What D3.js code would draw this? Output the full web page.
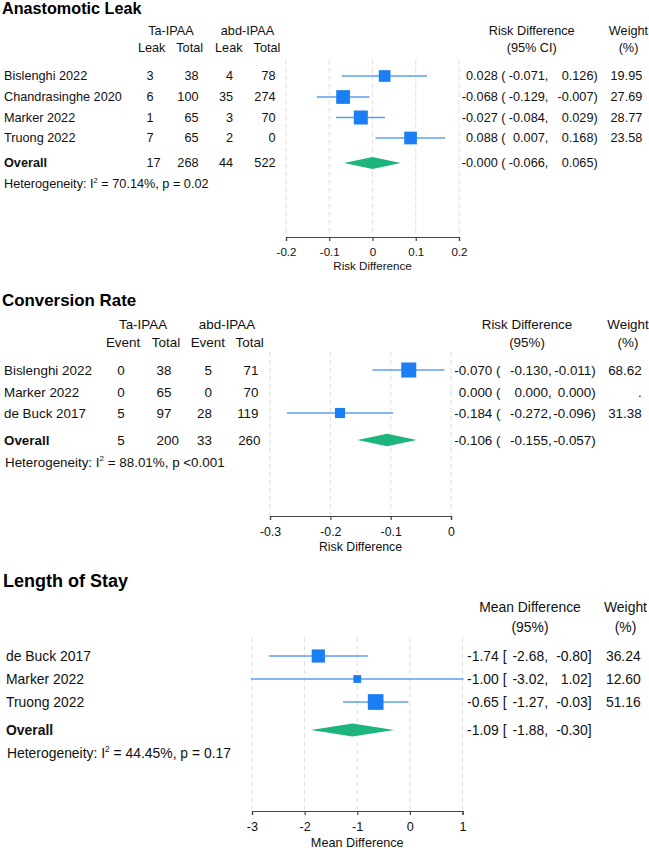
<!DOCTYPE html>
<html>
<head>
<meta charset="utf-8">
<script src="https://cdn.jsdelivr.net/npm/d3@7/dist/d3.min.js"></script>
<style>
  html, body { margin: 0; padding: 0; background: #fff; }
  svg { display: block; }
</style>
</head>
<body>
<script>
// ---------------- DATA ----------------
// Panel 1: Anastomotic Leak
const leakStudies   = ["Bislenghi 2022", "Chandrasinghe 2020", "Marker 2022", "Truong 2022"];
const leakTaEvents  = [3, 6, 1, 7];
const leakTaTotal   = [38, 100, 65, 65];
const leakAbdEvents = [4, 35, 3, 2];
const leakAbdTotal  = [78, 274, 70, 0];
const leakEst       = [0.028, -0.068, -0.027, 0.088];
const leakLower     = [-0.071, -0.129, -0.084, 0.007];
const leakUpper     = [0.126, -0.007, 0.029, 0.168];
const leakWeight    = [19.95, 27.69, 28.77, 23.58];
const leakOverallCounts = [17, 268, 44, 522];
const leakOverall   = [-0.000, -0.066, 0.065]; // est, lower, upper
const leakHet       = ["70.14", "= 0.02"];
const leakTicks     = [-0.2, -0.1, 0, 0.1, 0.2];

// Panel 2: Conversion Rate
const convStudies   = ["Bislenghi 2022", "Marker 2022", "de Buck 2017"];
const convTaEvents  = [0, 0, 5];
const convTaTotal   = [38, 65, 97];
const convAbdEvents = [5, 0, 28];
const convAbdTotal  = [71, 70, 119];
const convEst       = [-0.070, 0.000, -0.184];
const convLower     = [-0.130, 0.000, -0.272];
const convUpper     = [-0.011, 0.000, -0.096];
const convWeight    = [68.62, null, 31.38];
const convOverallCounts = [5, 200, 33, 260];
const convOverall   = [-0.106, -0.155, -0.057];
const convHet       = ["88.01", "<0.001"];
const convTicks     = [-0.3, -0.2, -0.1, 0];

// Panel 3: Length of Stay
const losStudies    = ["de Buck 2017", "Marker 2022", "Truong 2022"];
const losEst        = [-1.74, -1.00, -0.65];
const losLower      = [-2.68, -3.02, -1.27];
const losUpper      = [-0.80, 1.02, -0.03];
const losWeight     = [36.24, 12.60, 51.16];
const losOverall    = [-1.09, -1.88, -0.30];
const losHet        = ["44.45", "= 0.17"];
const losTicks      = [-3, -2, -1, 0, 1];

// ---------------- STYLE ----------------
const FONT = "'Liberation Sans', Arial, Helvetica, sans-serif";
const SQUARE = "#1c7ef4";
const CI = "#5e9fec";
const DIAMOND = "#1db57c";
const GRID = "#e0e0e0";
const AXIS = "#444";

const svg = d3.select("body").append("svg")
  .attr("width", 649).attr("height", 850)
  .attr("font-family", FONT);

function fmtNum(v, d) {
  const neg = v < 0 || Object.is(v, -0);
  return (neg ? "-" : "") + Math.abs(v).toFixed(d);
}

function drawPanel(p) {
  const g = svg.append("g");
  const fs = p.fs;
  const x = d3.scaleLinear().domain(p.domain).range(p.range);

  const txt = (sel, s, xx, yy, anchor, opts = {}) => {
    const t = sel.append("text")
      .attr("x", xx).attr("y", yy).attr("dy", "0.35em")
      .attr("text-anchor", anchor || "start")
      .attr("font-size", opts.fs || fs)
      .attr("fill", "#111")
      .text(s);
    if (opts.bold) t.attr("font-weight", "bold");
    return t;
  };

  // Title
  g.append("text")
    .attr("x", p.titleX).attr("y", p.titleBase)
    .attr("font-size", p.titleFs).attr("font-weight", "bold")
    .attr("fill", "#000").text(p.title);

  // Gridlines
  g.selectAll("line.grid").data(p.ticks).join("line")
    .attr("class", "grid")
    .attr("x1", d => x(d)).attr("x2", d => x(d))
    .attr("y1", p.gridTop).attr("y2", p.axisY)
    .attr("stroke", GRID).attr("stroke-width", 1)
    .attr("stroke-dasharray", "5,3");

  // Axis
  const ax = g.append("g")
    .attr("transform", `translate(0,${p.axisY})`)
    .call(d3.axisBottom(x).tickValues(p.ticks).tickSize(4).tickPadding(p.tickPad)
      .tickFormat(d => String(d)));
  ax.select(".domain").attr("stroke", AXIS).attr("stroke-width", 1.2);
  ax.selectAll(".tick line").attr("stroke", AXIS).attr("stroke-width", 1.2);
  ax.selectAll(".tick text")
    .attr("font-size", p.axFs).attr("font-family", FONT).attr("fill", "#111");
  txt(g, p.axisTitle, (p.range[0] + p.range[1]) / 2, p.axisTitleY, "middle", { fs: p.axFs });

  // Headers
  p.groupHeaders.forEach(h => txt(g, h.text, h.x, p.headerY[0], "middle"));
  p.colHeaders.forEach(h => txt(g, h.text, h.x, p.headerY[1], "middle"));
  txt(g, p.effectHeader[0], p.effectHeaderX, p.headerY[0], "middle");
  txt(g, p.effectHeader[1], p.effectHeaderX, p.headerY[1], "middle");
  txt(g, "Weight", p.weightHeaderX, p.headerY[0], "middle");
  txt(g, "(%)", p.weightHeaderX, p.headerY[1], "middle");

  // Study rows
  const maxW = d3.max(p.weight.filter(w => w != null));
  p.studies.forEach((s, i) => {
    const y = p.rowY[i];
    txt(g, s, p.labelX, y, "start");
    p.cols.forEach((c, j) => txt(g, String(p.colData[j][i]), c.x, y, c.anchor));

    // CI line
    if (p.upper[i] > p.lower[i]) {
      g.append("line")
        .attr("x1", x(p.lower[i])).attr("x2", x(p.upper[i]))
        .attr("y1", y).attr("y2", y)
        .attr("stroke", CI).attr("stroke-width", 1.6);
    }
    // Square
    if (p.weight[i] != null) {
      const sz = p.maxSq * Math.sqrt(p.weight[i] / maxW);
      g.append("rect")
        .attr("x", x(p.est[i]) - sz / 2).attr("y", y - sz / 2)
        .attr("width", sz).attr("height", sz)
        .attr("fill", SQUARE);
    } else {
      g.append("circle").attr("cx", x(p.est[i])).attr("cy", y).attr("r", 0.8)
        .attr("fill", "#b7d3f5");
    }

    // effect text
    txt(g, `${fmtNum(p.est[i], p.dec)} ${p.br[0]}`, p.ciX[0], y, "end");
    txt(g, `${fmtNum(p.lower[i], p.dec)},`, p.ciX[1], y, "end");
    txt(g, `${fmtNum(p.upper[i], p.dec)}${p.br[1]}`, p.ciX[2], y, "end");
    txt(g, p.weight[i] != null ? p.weight[i].toFixed(2) : ".", p.weightX, y, "end");
  });

  // Overall row
  const oy = p.overallY;
  txt(g, "Overall", p.labelX, oy, "start", { bold: true });
  p.cols.forEach((c, j) => txt(g, String(p.overallCounts[j]), c.ox != null ? c.ox : c.x, oy, c.anchor));
  const [oe, ol, ou] = p.overall;
  const dh = p.diamondH / 2;
  g.append("polygon")
    .attr("points", [[x(ol), oy], [x(oe), oy - dh], [x(ou), oy], [x(oe), oy + dh]].map(d => d.join(",")).join(" "))
    .attr("fill", DIAMOND);
  txt(g, `${fmtNum(oe, p.dec)} ${p.br[0]}`, p.ciX[0], oy, "end");
  txt(g, `${fmtNum(ol, p.dec)},`, p.ciX[1], oy, "end");
  txt(g, `${fmtNum(ou, p.dec)}${p.br[1]}`, p.ciX[2], oy, "end");

  // Heterogeneity
  const ht = g.append("text")
    .attr("x", p.hetX).attr("y", p.hetY).attr("dy", "0.35em")
    .attr("font-size", fs).attr("fill", "#111");
  ht.append("tspan").text("Heterogeneity: I");
  ht.append("tspan").attr("font-size", fs * 0.6).attr("dy", -fs * 0.45).text("2");
  ht.append("tspan").attr("dy", fs * 0.45).text(` = ${p.het[0]}%, p ${p.het[1]}`);
}

// ---------------- PANELS ----------------
drawPanel({
  title: "Anastomotic Leak", titleX: 2, titleBase: 13.5, titleFs: 16.2,
  fs: 12.7, axFs: 11.6, labelX: 4,
  studies: leakStudies,
  colData: [leakTaEvents, leakTaTotal, leakAbdEvents, leakAbdTotal],
  overallCounts: leakOverallCounts,
  cols: [{ x: 146.5, anchor: "start" }, { x: 198.5, anchor: "end" },
         { x: 233, anchor: "end" }, { x: 275.5, anchor: "end" }],
  groupHeaders: [{ text: "Ta-IPAA", x: 171 }, { text: "abd-IPAA", x: 247.5 }],
  colHeaders: [{ text: "Leak", x: 151.7 }, { text: "Total", x: 189.7 },
               { text: "Leak", x: 228.8 }, { text: "Total", x: 267 }],
  effectHeader: ["Risk Difference", "(95% CI)"], effectHeaderX: 531.7,
  weightHeaderX: 628.5,
  est: leakEst, lower: leakLower, upper: leakUpper, weight: leakWeight,
  overall: leakOverall, het: leakHet, dec: 3, br: ["(", ")"],
  ciX: [505.5, 548.3, 597.7], weightX: 642.3,
  headerY: [31, 48], rowY: [76, 97, 117.5, 138], overallY: 163, hetY: 184, hetX: 4,
  domain: [-0.2, 0.2], range: [286, 459], ticks: leakTicks,
  gridTop: 60, axisY: 237, tickPad: 7, axisTitle: "Risk Difference", axisTitleY: 266,
  maxSq: 14, diamondH: 12
});

drawPanel({
  title: "Conversion Rate", titleX: 2, titleBase: 305.5, titleFs: 16.9,
  fs: 13.4, axFs: 12.3, labelX: 4,
  studies: convStudies,
  colData: [convTaEvents, convTaTotal, convAbdEvents, convAbdTotal],
  overallCounts: convOverallCounts,
  cols: [{ x: 121, anchor: "middle" }, { x: 156.5, anchor: "start" },
         { x: 212, anchor: "end" }, { x: 258.5, anchor: "end", ox: 260.5 }],
  groupHeaders: [{ text: "Ta-IPAA", x: 143 }, { text: "abd-IPAA", x: 227 }],
  colHeaders: [{ text: "Event", x: 123 }, { text: "Total", x: 166 },
               { text: "Event", x: 207.8 }, { text: "Total", x: 249.7 }],
  effectHeader: ["Risk Difference", "(95%)"], effectHeaderX: 527,
  weightHeaderX: 628,
  est: convEst, lower: convLower, upper: convUpper, weight: convWeight,
  overall: convOverall, het: convHet, dec: 3, br: ["(", ")"],
  ciX: [500.5, 551.7, 595.7], weightX: 641.7,
  headerY: [324, 342], rowY: [370, 392, 413], overallY: 440, hetY: 462, hetX: 5,
  domain: [-0.3, 0], range: [270, 451], ticks: convTicks,
  gridTop: 352, axisY: 516, tickPad: 7, axisTitle: "Risk Difference", axisTitleY: 547,
  maxSq: 15, diamondH: 12.5
});

drawPanel({
  title: "Length of Stay", titleX: 3, titleBase: 587, titleFs: 18,
  fs: 13.9, axFs: 12.7, labelX: 6,
  studies: losStudies,
  colData: [], overallCounts: [], cols: [],
  groupHeaders: [], colHeaders: [],
  effectHeader: ["Mean Difference", "(95%)"], effectHeaderX: 530,
  weightHeaderX: 625.5,
  est: losEst, lower: losLower, upper: losUpper, weight: losWeight,
  overall: losOverall, het: losHet, dec: 2, br: ["[", "]"],
  ciX: [506.5, 548, 591.7], weightX: 640.7,
  headerY: [607, 627], rowY: [656, 679, 702], overallY: 730, hetY: 753, hetX: 7,
  domain: [-3, 1], range: [252, 462.5], ticks: losTicks,
  gridTop: 637, axisY: 811, tickPad: 7, axisTitle: "Mean Difference", axisTitleY: 842.5,
  maxSq: 15.7, diamondH: 13
});
</script>
</body>
</html>
